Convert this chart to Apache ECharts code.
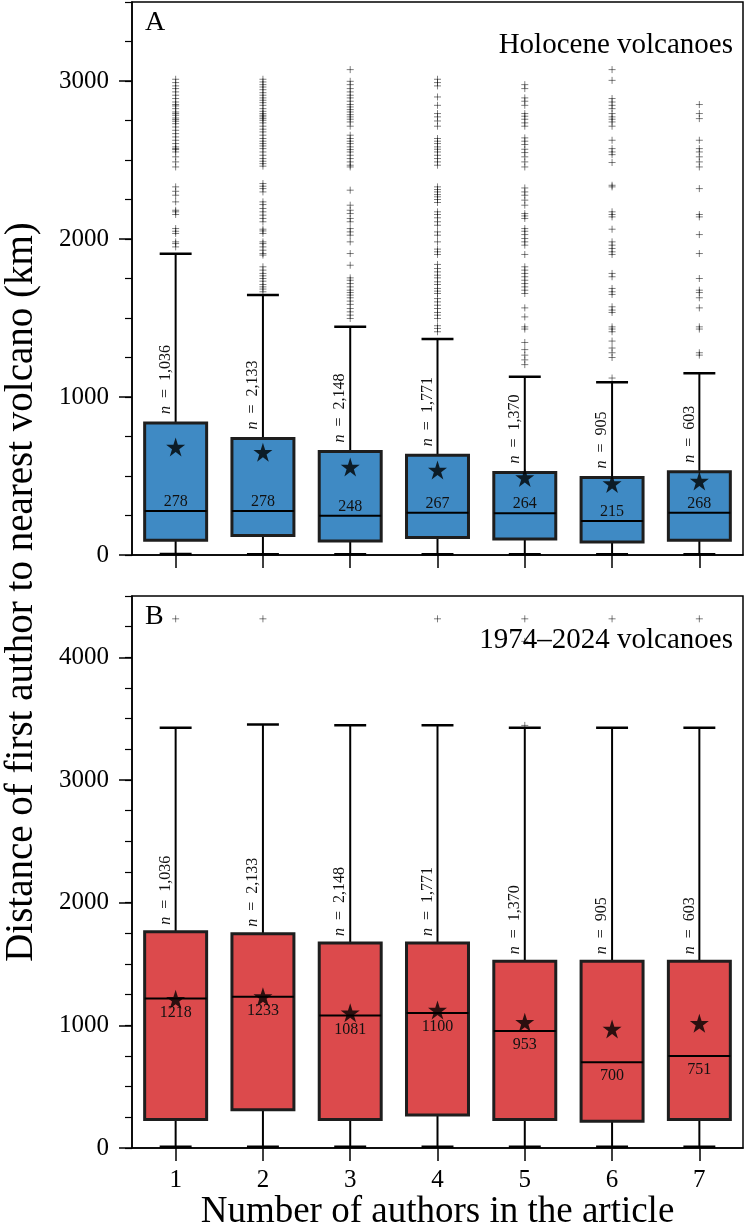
<!DOCTYPE html>
<html>
<head>
<meta charset="utf-8">
<script src="https://cdn.jsdelivr.net/npm/echarts@6.0.0/dist/echarts.min.js"></script>
<style>
  html, body { margin: 0; padding: 0; background: #fff; }
  #chart { width: 750px; height: 1232px; }
</style>
</head>
<body>
<div id="chart"></div>
<script>
const FONT = '"Liberation Serif", "DejaVu Serif", serif'

const categories = ['1', '2', '3', '4', '5', '6', '7']
const nLabels = ['1,036', '2,133', '2,148', '1,771', '1,370', '905', '603']

// panel A - Holocene volcanoes
const holoTicks = [0, 1000, 2000, 3000]
const holoLow = [7, 5, 5, 5, 5, 5, 5]
const holoQ1 = [94, 124, 89, 110, 101, 82, 94]
const holoMedian = [278, 278, 248, 267, 264, 215, 268]
const holoQ3 = [835, 737, 655, 632, 522, 491, 527]
const holoHigh = [1907, 1645, 1444, 1367, 1128, 1093, 1151]
const holoMean = [683, 651, 557, 538, 491, 452, 468]
const holoOutliers = [
  [3011, 2990, 2969, 2952, 2931, 2910, 2889, 2867, 2851, 2842, 2825, 2804, 2794, 2783, 2766, 2756, 2745, 2730, 2709, 2688, 2667, 2646, 2625, 2604, 2583, 2572, 2566, 2551, 2520, 2488, 2456, 2330, 2302, 2277, 2235, 2182, 2172, 2155, 2066, 2049, 2035, 1982, 1971, 1950],
  [3011, 2994, 2977, 2962, 2945, 2926, 2910, 2893, 2878, 2863, 2846, 2825, 2808, 2794, 2783, 2773, 2762, 2751, 2735, 2714, 2695, 2678, 2657, 2636, 2619, 2604, 2589, 2572, 2551, 2530, 2509, 2492, 2477, 2461, 2351, 2334, 2319, 2298, 2235, 2218, 2193, 2172, 2151, 2130, 2109, 2062, 2051, 2035, 1982, 1971, 1950, 1929, 1908, 1898, 1824, 1803, 1782, 1767, 1750, 1733, 1712, 1697, 1683, 1666],
  [3072, 2998, 2977, 2952, 2931, 2910, 2893, 2872, 2851, 2836, 2819, 2804, 2787, 2773, 2758, 2741, 2714, 2657, 2636, 2619, 2604, 2583, 2566, 2551, 2530, 2509, 2488, 2467, 2456, 2309, 2214, 2182, 2161, 2130, 2109, 2066, 2045, 2024, 1982, 1908, 1834, 1754, 1739, 1718, 1697, 1676, 1661, 1645, 1628, 1607, 1586, 1560, 1539, 1518, 1497],
  [3011, 2990, 2969, 2899, 2846, 2794, 2773, 2747, 2714, 2636, 2619, 2604, 2583, 2568, 2551, 2530, 2509, 2488, 2467, 2330, 2313, 2298, 2281, 2267, 2250, 2231, 2172, 2155, 2134, 2109, 2087, 2045, 2024, 1982, 1936, 1919, 1902, 1839, 1813, 1792, 1771, 1754, 1729, 1712, 1687, 1670, 1655, 1623, 1602, 1581, 1560, 1535, 1518, 1497, 1451, 1434, 1413],
  [2977, 2952, 2893, 2872, 2846, 2794, 2777, 2758, 2735, 2714, 2640, 2619, 2598, 2568, 2547, 2520, 2488, 2456, 2323, 2298, 2277, 2246, 2214, 2161, 2146, 2130, 2066, 2049, 2028, 2003, 1982, 1961, 1902, 1824, 1803, 1782, 1761, 1739, 1718, 1697, 1676, 1655, 1564, 1507, 1444, 1430, 1345, 1300, 1265, 1235, 1205],
  [3072, 3004, 2889, 2867, 2846, 2825, 2794, 2773, 2758, 2741, 2714, 2625, 2572, 2551, 2534, 2484, 2340, 2330, 2172, 2155, 2140, 2062, 1982, 1961, 1940, 1919, 1902, 1782, 1761, 1687, 1666, 1649, 1571, 1550, 1535, 1444, 1430, 1413, 1354, 1310, 1280, 1250, 1120],
  [2851, 2794, 2762, 2625, 2572, 2551, 2520, 2488, 2456, 2319, 2155, 2140, 2028, 1908, 1750, 1676, 1661, 1628, 1564, 1444, 1430, 1280, 1265]
]

// panel B - 1974-2024 volcanoes
const recentTicks = [0, 1000, 2000, 3000, 4000]
const recentLow = [10, 10, 10, 10, 10, 10, 10]
const recentQ1 = [233, 311, 233, 270, 233, 218, 233]
const recentMedian = [1218, 1233, 1081, 1100, 953, 700, 751]
const recentQ3 = [1762, 1747, 1672, 1672, 1523, 1523, 1523]
const recentHigh = [3425, 3453, 3447, 3447, 3425, 3425, 3425]
const recentMean = [1212, 1234, 1103, 1125, 1026, 970, 1016]
const recentOutliers = [[4314], [4314], [], [4314], [4314, 4130, 3445], [4314], [4314]]

const STAR = 'path://M50,0L61.2,34.5L97.6,34.5L68.2,55.9L79.4,90.5L50,69.1L20.6,90.5L31.8,55.9L2.4,34.5L38.8,34.5Z'

function boxData(low, q1, med, q3, high) {
  return categories.map((c, i) => [i, low[i], q1[i], med[i], q3[i], high[i]])
}

function pointData(values) {
  return categories.map((c, i) => [i, values[i]])
}

function outlierData(groups) {
  const out = []
  groups.forEach((vals, i) => {
    vals.forEach(v => out.push([i, v]))
  })
  return out
}

function renderBox(fill, labelBelow) {
  return function (params, api) {
    const i = api.value(0)
    const lo = api.coord([i, api.value(1)])
    const q1 = api.coord([i, api.value(2)])
    const md = api.coord([i, api.value(3)])
    const q3 = api.coord([i, api.value(4)])
    const hi = api.coord([i, api.value(5)])
    const band = api.size([1, 0])[0]
    const cx = md[0]
    const half = band * 0.355
    const cap = band * 0.183
    const stem = { stroke: '#000', lineWidth: 2 }
    const capStyle = { stroke: '#000', lineWidth: 2.5 }
    return {
      type: 'group',
      children: [
        { type: 'line', shape: { x1: cx, y1: q3[1], x2: cx, y2: hi[1] }, style: stem },
        { type: 'line', shape: { x1: cx, y1: q1[1], x2: cx, y2: lo[1] }, style: stem },
        { type: 'line', shape: { x1: cx - cap, y1: hi[1], x2: cx + cap, y2: hi[1] }, style: capStyle },
        { type: 'line', shape: { x1: cx - cap, y1: lo[1], x2: cx + cap, y2: lo[1] }, style: capStyle },
        {
          type: 'rect',
          shape: { x: cx - half, y: q3[1], width: half * 2, height: q1[1] - q3[1] },
          style: { fill: fill, stroke: '#1e1e1e', lineWidth: 3 }
        },
        { type: 'line', shape: { x1: cx - half, y1: md[1], x2: cx + half, y2: md[1] }, style: stem },
        {
          type: 'text',
          x: cx,
          y: labelBelow ? md[1] + 6 : md[1] - 1,
          style: {
            text: String(Math.round(api.value(3))),
            font: '16px ' + FONT,
            fill: '#111',
            align: 'center',
            textAlign: 'center',
            verticalAlign: labelBelow ? 'top' : 'bottom',
            textVerticalAlign: labelBelow ? 'top' : 'bottom'
          }
        },
        {
          type: 'text',
          x: cx - 2,
          y: q3[1] - (labelBelow ? 7 : 9),
          rotation: Math.PI / 2,
          style: {
            text: '{it|n}\u2002=\u2002' + nLabels[i],
            font: '16px ' + FONT,
            fill: '#111',
            align: 'left',
            textAlign: 'left',
            verticalAlign: 'bottom',
            textVerticalAlign: 'bottom',
            rich: { it: { fontStyle: 'italic', fontFamily: FONT, fontSize: 16 } }
          }
        }
      ]
    }
  }
}

function renderCross(params, api) {
  const p = api.coord([api.value(0), api.value(1)])
  const s = 3.5
  const st = { stroke: 'rgba(0,0,0,0.5)', lineWidth: 1 }
  return {
    type: 'group',
    children: [
      { type: 'line', shape: { x1: p[0] - s, y1: p[1], x2: p[0] + s, y2: p[1] }, style: st },
      { type: 'line', shape: { x1: p[0], y1: p[1] - s, x2: p[0], y2: p[1] + s }, style: st }
    ]
  }
}

function xAxisFor(gridIndex, showLabels) {
  const axis = {
    gridIndex: gridIndex,
    type: 'category',
    data: categories,
    boundaryGap: true,
    axisLine: { show: true, lineStyle: { color: '#000', width: 1.5 } },
    axisTick: { show: true, alignWithLabel: true, length: 13, lineStyle: { color: '#000', width: 1.5 } },
    axisLabel: { show: showLabels, fontFamily: FONT, fontSize: 25, color: '#000', margin: 20 },
    splitLine: { show: false }
  }
  if (showLabels) {
    axis.name = 'Number of authors in the article'
    axis.nameLocation = 'middle'
    axis.nameGap = 46
    axis.nameTextStyle = { fontFamily: FONT, fontSize: 37, color: '#000' }
  }
  return axis
}

function yAxesFor(gridIndex, max, ticks) {
  return [
    {
      gridIndex: gridIndex,
      type: 'value',
      min: 0,
      max: max,
      interval: 250,
      splitLine: { show: false },
      axisLine: { show: true, lineStyle: { color: '#000', width: 1.5 } },
      axisTick: { show: true, length: 7, lineStyle: { color: '#000', width: 1.2 } },
      axisLabel: {
        fontFamily: FONT,
        fontSize: 25,
        color: '#000',
        margin: 23,
        formatter: v => (ticks.indexOf(v) >= 0 ? String(v) : '')
      }
    },
    {
      gridIndex: gridIndex,
      type: 'value',
      min: 0,
      max: max,
      interval: 1000,
      position: 'left',
      splitLine: { show: false },
      axisLine: { show: false },
      axisLabel: { show: false },
      axisTick: { show: true, length: 13, customValues: ticks, lineStyle: { color: '#000', width: 1.5 } }
    }
  ]
}

const chart = echarts.init(document.getElementById('chart'), null, { renderer: 'canvas' })

chart.setOption({
  animation: false,
  backgroundColor: '#fff',
  grid: [
    { left: 132, top: 2, width: 611, height: 553, show: true, borderColor: '#000', borderWidth: 1.5 },
    { left: 132, top: 596, width: 611, height: 553, show: true, borderColor: '#000', borderWidth: 1.5 }
  ],
  xAxis: [xAxisFor(0, false), xAxisFor(1, true)],
  yAxis: yAxesFor(0, 3500, holoTicks).concat(yAxesFor(1, 4500, recentTicks)),
  graphic: [
    { type: 'text', left: 145, top: 9, style: { text: 'A', font: '28px ' + FONT, fill: '#000' } },
    { type: 'text', right: 17, top: 31, style: { text: 'Holocene volcanoes', font: '29px ' + FONT, fill: '#000' } },
    { type: 'text', left: 145, top: 603, style: { text: 'B', font: '28px ' + FONT, fill: '#000' } },
    { type: 'text', right: 17, top: 626, style: { text: '1974\u20132024 volcanoes', font: '29px ' + FONT, fill: '#000' } },
    {
      type: 'text',
      x: 22,
      y: 592,
      rotation: Math.PI / 2,
      style: {
        text: 'Distance of first author to nearest volcano (km)',
        font: '39px ' + FONT,
        fill: '#000',
        align: 'center',
        textAlign: 'center',
        verticalAlign: 'middle',
        textVerticalAlign: 'middle'
      }
    }
  ],
  series: [
    {
      type: 'custom',
      xAxisIndex: 0,
      yAxisIndex: 0,
      renderItem: renderBox('#3f8ac4', false),
      encode: { x: 0, y: [1, 2, 3, 4, 5] },
      data: boxData(holoLow, holoQ1, holoMedian, holoQ3, holoHigh),
      z: 2
    },
    {
      type: 'custom',
      xAxisIndex: 0,
      yAxisIndex: 0,
      renderItem: renderCross,
      encode: { x: 0, y: 1 },
      data: outlierData(holoOutliers),
      z: 3
    },
    {
      type: 'scatter',
      xAxisIndex: 0,
      yAxisIndex: 0,
      symbol: STAR,
      symbolSize: 19,
      itemStyle: { color: '#000' },
      data: pointData(holoMean),
      z: 4
    },
    {
      type: 'custom',
      xAxisIndex: 1,
      yAxisIndex: 2,
      renderItem: renderBox('#dc4a4c', true),
      encode: { x: 0, y: [1, 2, 3, 4, 5] },
      data: boxData(recentLow, recentQ1, recentMedian, recentQ3, recentHigh),
      z: 2
    },
    {
      type: 'custom',
      xAxisIndex: 1,
      yAxisIndex: 2,
      renderItem: renderCross,
      encode: { x: 0, y: 1 },
      data: outlierData(recentOutliers),
      z: 3
    },
    {
      type: 'scatter',
      xAxisIndex: 1,
      yAxisIndex: 2,
      symbol: STAR,
      symbolSize: 19,
      itemStyle: { color: '#000' },
      data: pointData(recentMean),
      z: 4
    }
  ]
})
</script>
</body>
</html>
